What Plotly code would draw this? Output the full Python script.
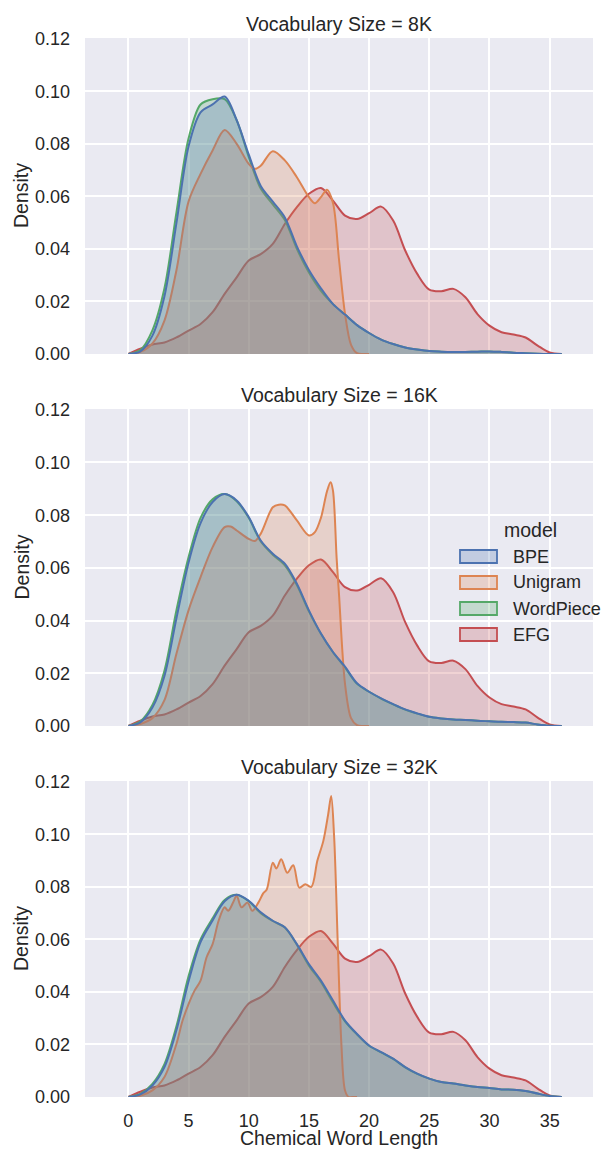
import plotly.graph_objects as go

# ---------------- data ----------------
models = ["BPE", "Unigram", "WordPiece", "EFG"]
colors = {"BPE": "#4C72B0", "Unigram": "#DD8452", "WordPiece": "#55A868", "EFG": "#C44E52"}
fills = {"BPE": "rgba(76,114,176,0.25)", "Unigram": "rgba(221,132,82,0.25)",
         "WordPiece": "rgba(85,168,104,0.25)", "EFG": "rgba(196,78,82,0.25)"}
vocab_sizes = ["8K", "16K", "32K"]

x_grid = list(range(0, 37))

efg_density = [0, 0.002, 0.0036, 0.0044, 0.0063, 0.0089, 0.0114, 0.0159, 0.0229, 0.0292,
               0.0356, 0.038, 0.0419, 0.0495, 0.0559, 0.061, 0.0632, 0.0584, 0.0527, 0.0514,
               0.0536, 0.0561, 0.0508, 0.0394, 0.0305, 0.0245, 0.0239, 0.0248, 0.0216, 0.0152,
               0.0108, 0.0083, 0.0074, 0.0063, 0.0032, 0.0006, 0]

bpe_8k = [0, 0.001, 0.007, 0.022, 0.050, 0.079, 0.092, 0.095, 0.098, 0.089,
          0.076, 0.064, 0.058, 0.052, 0.041, 0.032, 0.025, 0.019, 0.015, 0.011,
          0.008, 0.0055, 0.0038, 0.0025, 0.0017, 0.0011, 0.0009, 0.0008, 0.0008, 0.0009,
          0.001, 0.0008, 0.0005, 0.0003, 0.0001, 0, 0]
wordpiece_8k = [0, 0.0015, 0.009, 0.025, 0.054, 0.082, 0.095, 0.097, 0.097, 0.089,
                0.075, 0.063, 0.057, 0.051, 0.040, 0.031, 0.024, 0.019, 0.015, 0.011,
                0.008, 0.0055, 0.0038, 0.0025, 0.0017, 0.0011, 0.0009, 0.0008, 0.0008, 0.0009,
                0.001, 0.0008, 0.0005, 0.0003, 0.0001, 0, 0]
unigram_8k_x = [0, 1, 2, 3, 4, 5, 6, 7, 8, 9, 10, 10.5, 11, 12, 13, 14, 15, 15.5, 16, 16.5,
                17, 17.5, 18, 18.5, 19, 19.5, 20]
unigram_8k = [0, 0.0008, 0.004, 0.0127, 0.032, 0.058, 0.0686, 0.0775, 0.0853, 0.080,
              0.0724, 0.0705, 0.0717, 0.0772, 0.0737, 0.0673, 0.0597, 0.0574, 0.0597, 0.0625,
              0.0575, 0.036, 0.0153, 0.0035, 0.0003, 0, 0]

bpe_16k = [0, 0.0014, 0.007, 0.019, 0.041, 0.062, 0.077, 0.085, 0.088, 0.0856,
           0.0793, 0.0704, 0.0654, 0.0616, 0.054, 0.0439, 0.0351, 0.0281, 0.0225, 0.0162,
           0.013, 0.0105, 0.0083, 0.0063, 0.0048, 0.0035, 0.0029, 0.0025, 0.0023, 0.002,
           0.0018, 0.0016, 0.0015, 0.0013, 0.0006, 0.0001, 0]
wordpiece_16k = [0, 0.0018, 0.008, 0.021, 0.044, 0.064, 0.079, 0.086, 0.088, 0.0853,
                 0.079, 0.070, 0.065, 0.061, 0.0535, 0.0435, 0.035, 0.028, 0.0222, 0.016,
                 0.013, 0.0104, 0.0082, 0.0062, 0.0047, 0.0035, 0.0029, 0.0025, 0.0023, 0.002,
                 0.0018, 0.0016, 0.0015, 0.0013, 0.0006, 0.0001, 0]
unigram_16k_x = [0, 1, 2, 3, 4, 5, 6, 7, 8, 8.5, 9, 10, 10.5, 11, 12, 12.5, 13, 14, 15, 15.5,
                 16, 16.5, 16.8, 17, 17.3, 17.5, 18, 18.5, 19, 19.5, 20]
unigram_16k = [0, 0.0008, 0.003, 0.0098, 0.0275, 0.0439, 0.0565, 0.0679, 0.0755, 0.0757,
               0.0742, 0.071, 0.0702, 0.073, 0.083, 0.084, 0.0837, 0.078, 0.0723, 0.0736,
               0.079, 0.089, 0.0925, 0.0893, 0.064, 0.050, 0.016, 0.003, 0.0003, 0, 0]

bpe_32k = [0, 0.001, 0.0044, 0.0114, 0.0255, 0.044, 0.059, 0.0672, 0.0745, 0.077,
           0.0747, 0.0703, 0.0671, 0.0646, 0.0582, 0.0506, 0.0443, 0.0367, 0.0291, 0.024,
           0.0196, 0.0171, 0.0146, 0.0114, 0.0089, 0.007, 0.0057, 0.0051, 0.0044, 0.0038,
           0.0034, 0.0029, 0.0028, 0.0023, 0.0013, 0.0004, 0]
wordpiece_32k = [0, 0.0012, 0.005, 0.0125, 0.027, 0.046, 0.060, 0.068, 0.075, 0.077,
                 0.0745, 0.070, 0.067, 0.0645, 0.058, 0.050, 0.0438, 0.036, 0.0288, 0.0238,
                 0.0195, 0.017, 0.0145, 0.0113, 0.0088, 0.007, 0.0057, 0.0051, 0.0044, 0.0038,
                 0.0034, 0.0029, 0.0028, 0.0023, 0.0013, 0.0004, 0]
unigram_32k_x = [0, 1, 2, 3, 4, 4.5, 5, 5.5, 6, 6.5, 7, 7.5, 8, 8.3, 8.7, 9, 9.4, 9.9, 10.3,
                 10.8, 11.2, 11.5, 12, 12.3, 12.7, 13.2, 13.7, 14.2, 14.7, 15.2, 15.7, 16.2,
                 16.6, 16.85, 17.1, 17.4, 17.7, 18, 18.3, 18.6, 19]
unigram_32k = [0, 0.0005, 0.0025, 0.0076, 0.0203, 0.029, 0.0354, 0.0405, 0.0443, 0.0532,
               0.0582, 0.0671, 0.0722, 0.0709, 0.074, 0.0766, 0.0722, 0.074, 0.0709, 0.074,
               0.0775, 0.079, 0.0892, 0.087, 0.0905, 0.0854, 0.0882, 0.0797, 0.081, 0.080,
               0.0899, 0.0975, 0.1076, 0.1146, 0.0987, 0.058, 0.020, 0.0025, 0, 0, 0]

x_ticks = [0, 5, 10, 15, 20, 25, 30, 35]
y_ticks = [0.00, 0.02, 0.04, 0.06, 0.08, 0.10, 0.12]

panels = {
    "8K": {"BPE": (x_grid, bpe_8k), "Unigram": (unigram_8k_x, unigram_8k),
           "WordPiece": (x_grid, wordpiece_8k), "EFG": (x_grid, efg_density)},
    "16K": {"BPE": (x_grid, bpe_16k), "Unigram": (unigram_16k_x, unigram_16k),
            "WordPiece": (x_grid, wordpiece_16k), "EFG": (x_grid, efg_density)},
    "32K": {"BPE": (x_grid, bpe_32k), "Unigram": (unigram_32k_x, unigram_32k),
            "WordPiece": (x_grid, wordpiece_32k), "EFG": (x_grid, efg_density)},
}

# ---------------- figure ----------------
W, H = 601, 1150
ML, MR, MT, MB = 85, 8, 38, 53
domains = [[0.7016, 1.0], [0.3503, 0.6497], [0.0, 0.2984]]
TXT = "#262626"
FONT = "Liberation Sans, Arial, sans-serif"

fig = go.Figure()
draw_order = ["EFG", "WordPiece", "Unigram", "BPE"]
for i, vs in enumerate(vocab_sizes):
    ax = "" if i == 0 else str(i + 1)
    for m in draw_order:
        xs, ys = panels[vs][m]
        fig.add_trace(go.Scatter(
            x=xs, y=ys, mode="lines", name=m, showlegend=False,
            line=dict(color=colors[m], width=2, shape="spline", smoothing=0.9),
            fill="tozeroy", fillcolor=fills[m],
            xaxis="x" + ax, yaxis="y" + ax, hoverinfo="skip"))

axis_common = dict(showgrid=True, gridcolor="white", gridwidth=1.5, zeroline=False,
                   showline=False, ticks="", automargin=False,
                   tickfont=dict(size=18, color=TXT, family=FONT))
layout = dict(width=W, height=H, margin=dict(l=ML, r=MR, t=MT, b=MB),
              paper_bgcolor="white", plot_bgcolor="#EAEAF2",
              font=dict(family=FONT, color=TXT), showlegend=False)
for i in range(3):
    sfx = "" if i == 0 else str(i + 1)
    layout["xaxis" + sfx] = dict(axis_common, domain=[0, 1], range=[-3.6, 38.6],
                                 tickvals=x_ticks, showticklabels=(i == 2),
                                 anchor="y" + sfx, ticklabelstandoff=11)
    layout["yaxis" + sfx] = dict(axis_common, domain=domains[i], range=[0, 0.1203],
                                 tickvals=y_ticks, tickformat=".2f",
                                 anchor="x" + sfx, ticklabelstandoff=14)
fig.update_layout(**layout)

annotations = []
for i, vs in enumerate(vocab_sizes):
    annotations.append(dict(text=f"Vocabulary Size = {vs}", x=0.5, y=domains[i][1],
                            xref="paper", yref="paper", xanchor="center", yanchor="bottom",
                            yshift=1, showarrow=False, font=dict(size=19.5, color=TXT)))
    annotations.append(dict(text="Density", x=(21 - ML) / (W - ML - MR),
                            y=(domains[i][0] + domains[i][1]) / 2,
                            xref="paper", yref="paper", xanchor="center", yanchor="middle",
                            textangle=-90, showarrow=False, font=dict(size=19.5, color=TXT)))
annotations.append(dict(text="Chemical Word Length", x=0.5, y=(1097 - 1138) / (H - MT - MB),
                        xref="paper", yref="paper", xanchor="center", yanchor="middle",
                        showarrow=False, font=dict(size=19.5, color=TXT)))

# legend (drawn manually as patches + text, like seaborn's)
def px_x(p):
    return (p - ML) / (W - ML - MR)

def px_y(p):
    return (H - MB - p) / (H - MT - MB)

annotations.append(dict(text="model", x=px_x(530), y=px_y(530), xref="paper", yref="paper",
                        xanchor="center", yanchor="middle", showarrow=False,
                        font=dict(size=19.5, color=TXT)))
shapes = []
for k, m in enumerate(models):
    cy = 556.5 + 26 * k
    shapes.append(dict(type="rect", xref="paper", yref="paper",
                       x0=px_x(460), x1=px_x(497), y0=px_y(cy + 6.5), y1=px_y(cy - 6.5),
                       line=dict(color=colors[m], width=1.8), fillcolor=fills[m], layer="above"))
    annotations.append(dict(text=m, x=px_x(511), y=px_y(cy), xref="paper", yref="paper",
                            xanchor="left", yanchor="middle", showarrow=False,
                            font=dict(size=18, color=TXT)))

fig.update_layout(annotations=annotations, shapes=shapes)
fig.write_html("out.html", config={"displayModeBar": False},
               post_script="document.body.style.margin='0';")
